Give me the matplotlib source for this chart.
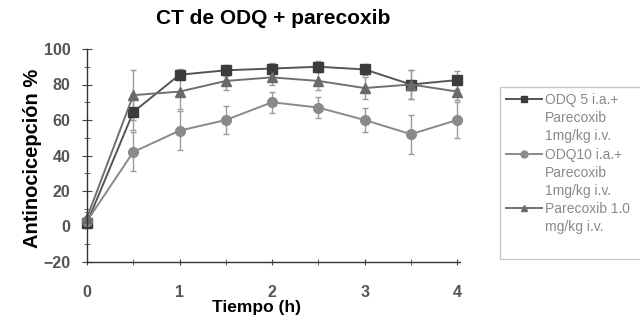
import matplotlib
matplotlib.use("Agg")
import matplotlib.pyplot as plt
from matplotlib.ticker import MultipleLocator
from matplotlib.lines import Line2D

plt.rcParams['font.family'] = ['Liberation Sans', 'DejaVu Sans']

time_h = [0, 0.5, 1, 1.5, 2, 2.5, 3, 3.5, 4]
odq5 = [2, 64.5, 85.5, 88, 89, 90, 88.5, 80, 82.5]
odq5_err = [3, 10, 3, 3, 3, 3, 3, 8, 5]
odq10 = [3, 42, 54, 60, 70, 67, 60, 52, 60]
odq10_err = [3, 11, 11, 8, 6, 6, 7, 11, 10]
parec = [5, 74, 76, 82, 84, 82, 78, 80, 76]
parec_err = [3, 14, 10, 5, 4, 5, 6, 8, 5]

labels = ["ODQ 5 i.a.+\nParecoxib\n1mg/kg i.v.",
          "ODQ10 i.a.+\nParecoxib\n1mg/kg i.v.",
          "Parecoxib 1.0\nmg/kg i.v."]
title = "CT de ODQ + parecoxib"
xlabel = "Tiempo (h)"
ylabel = "Antinocicepción %"

W, H = 640, 320
fig = plt.figure(figsize=(6.4, 3.2), dpi=100)
ax = fig.add_axes([87/W, 1-262/H, (460-87)/W, (262-49)/H])

styles = [
    (odq5, odq5_err, 's', '#3c3c3c', '#555555', 7),
    (odq10, odq10_err, 'o', '#8a8a8a', '#8a8a8a', 7),
    (parec, parec_err, '^', '#6a6a6a', '#707070', 7),
]
leg_handles = []
leg_labels = []
for (vals, err, mk, mc, lc, ms), lab in zip(styles, labels):
    ax.errorbar(time_h, vals, yerr=err, marker=mk, ms=ms, color=lc,
                mfc=mc, mec=mc, lw=1.4, elinewidth=1.0, ecolor='#9a9a9a',
                capsize=2.5, capthick=1.0, clip_on=False)
    for i, line in enumerate(lab.split("\n")):
        if i == 0:
            leg_handles.append(Line2D([], [], color=lc, lw=1.4, marker=mk,
                                      ms=5, mfc=mc, mec=mc))
        else:
            leg_handles.append(Line2D([], [], color='none', lw=0))
        leg_labels.append(line)
# blank row for the empty space at the bottom of the legend box
leg_handles.append(Line2D([], [], color='none', lw=0))
leg_labels.append(" ")

ax.set_xlim(0, 4.03)
ax.set_ylim(-20, 100)
ax.xaxis.set_major_locator(MultipleLocator(1))
ax.xaxis.set_minor_locator(MultipleLocator(0.5))
ax.yaxis.set_major_locator(MultipleLocator(20))
ax.yaxis.set_minor_locator(MultipleLocator(10))
for s in ['top', 'right']:
    ax.spines[s].set_visible(False)
for s in ['left', 'bottom']:
    ax.spines[s].set_color('#333333')
    ax.spines[s].set_linewidth(1.0)
ax.tick_params(axis='both', which='both', direction='inout', color='#444444')
ax.tick_params(axis='y', which='major', length=7, pad=8.5)
ax.tick_params(axis='y', which='minor', length=5)
ax.tick_params(axis='x', which='both', length=5, pad=14)
for lbl in ax.get_xticklabels() + ax.get_yticklabels():
    lbl.set_fontweight('bold')
    lbl.set_fontsize(11.5)
    lbl.set_color('#555555')

ax.set_title(title, fontsize=15, fontweight='bold', pad=18)
ax.set_xlabel(xlabel, fontsize=12.5, fontweight='bold')
ax.xaxis.set_label_coords((256-87)/373, (262-300)/213)
ax.set_ylabel(ylabel, fontsize=14.5, fontweight='bold')
ax.yaxis.set_label_coords((42-87)/373, (262-158)/213)

leg = fig.legend(handles=leg_handles, labels=leg_labels, loc='upper left',
                 bbox_to_anchor=(500/W, 1-90/H, 160/W, 0.01), mode='expand',
                 fontsize=10, frameon=True, fancybox=False, edgecolor='#bbbbbb',
                 handlelength=2.6, handletextpad=0.2, labelspacing=0.3,
                 borderpad=0.45, borderaxespad=0)
for t in leg.get_texts():
    t.set_color('#8a8a8a')

fig.savefig("out.png", dpi=100)
